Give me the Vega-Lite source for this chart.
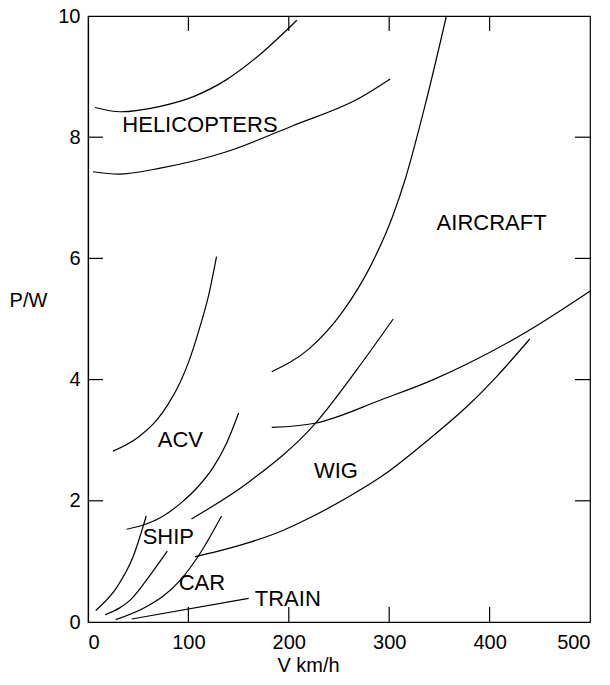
{
  "$schema": "https://vega.github.io/schema/vega-lite/v6.json",
  "width": 502,
  "height": 606,
  "autosize": {"type": "none"},
  "padding": {"left": 88, "top": 16, "right": 20, "bottom": 63},
  "background": "white",
  "config": {
    "view": {"stroke": "black", "strokeWidth": 1.2},
    "font": "Liberation Sans",
    "axis": {
      "domainColor": "black", "labelColor": "black", "titleColor": "black",
      "labelFont": "Liberation Sans", "titleFont": "Liberation Sans",
      "labelFontSize": 20, "titleFontSize": 20, "titleFontWeight": "normal",
      "domainWidth": 1.2, "ticks": false, "grid": false
    }
  },
  "datasets": {
    "curves": [
      {"c": "heli_up", "x": 7, "y": 8.49}, {"c": "heli_up", "x": 32, "y": 8.42}, {"c": "heli_up", "x": 72, "y": 8.51}, {"c": "heli_up", "x": 105, "y": 8.67}, {"c": "heli_up", "x": 138, "y": 8.95}, {"c": "heli_up", "x": 171, "y": 9.36}, {"c": "heli_up", "x": 208, "y": 9.93},
      {"c": "heli_low", "x": 5, "y": 7.43}, {"c": "heli_low", "x": 30, "y": 7.39}, {"c": "heli_low", "x": 72, "y": 7.49}, {"c": "heli_low", "x": 138, "y": 7.76}, {"c": "heli_low", "x": 204, "y": 8.19}, {"c": "heli_low", "x": 271, "y": 8.65}, {"c": "heli_low", "x": 301, "y": 8.96},
      {"c": "air_left", "x": 183, "y": 4.13}, {"c": "air_left", "x": 221, "y": 4.52}, {"c": "air_left", "x": 254, "y": 5.13}, {"c": "air_left", "x": 281, "y": 5.86}, {"c": "air_left", "x": 304, "y": 6.72}, {"c": "air_left", "x": 316, "y": 7.31}, {"c": "air_left", "x": 337, "y": 8.61}, {"c": "air_left", "x": 357, "y": 10.0},
      {"c": "air_right", "x": 183, "y": 3.21}, {"c": "air_right", "x": 226, "y": 3.28}, {"c": "air_right", "x": 294, "y": 3.68}, {"c": "air_right", "x": 344, "y": 4.0}, {"c": "air_right", "x": 379, "y": 4.27}, {"c": "air_right", "x": 437, "y": 4.79}, {"c": "air_right", "x": 501, "y": 5.47},
      {"c": "mid", "x": 103, "y": 1.7}, {"c": "mid", "x": 161, "y": 2.32}, {"c": "mid", "x": 226, "y": 3.27}, {"c": "mid", "x": 268, "y": 4.17}, {"c": "mid", "x": 304, "y": 5.0},
      {"c": "acv_up", "x": 25, "y": 2.82}, {"c": "acv_up", "x": 50, "y": 3.05}, {"c": "acv_up", "x": 68.4, "y": 3.33}, {"c": "acv_up", "x": 80, "y": 3.6}, {"c": "acv_up", "x": 91.6, "y": 3.95}, {"c": "acv_up", "x": 100, "y": 4.28}, {"c": "acv_up", "x": 111.5, "y": 4.87}, {"c": "acv_up", "x": 120, "y": 5.38}, {"c": "acv_up", "x": 128, "y": 6.03},
      {"c": "acv_low", "x": 38.5, "y": 1.53}, {"c": "acv_low", "x": 55, "y": 1.6}, {"c": "acv_low", "x": 75, "y": 1.75}, {"c": "acv_low", "x": 93, "y": 1.97}, {"c": "acv_low", "x": 110, "y": 2.24}, {"c": "acv_low", "x": 125, "y": 2.56}, {"c": "acv_low", "x": 138, "y": 2.95}, {"c": "acv_low", "x": 150, "y": 3.45},
      {"c": "ship1", "x": 7.7, "y": 0.19}, {"c": "ship1", "x": 29, "y": 0.58}, {"c": "ship1", "x": 45, "y": 1.08}, {"c": "ship1", "x": 58, "y": 1.75},
      {"c": "ship2", "x": 17, "y": 0.12}, {"c": "ship2", "x": 42, "y": 0.36}, {"c": "ship2", "x": 63, "y": 0.8}, {"c": "ship2", "x": 79, "y": 1.17},
      {"c": "car", "x": 27.6, "y": 0.04}, {"c": "car", "x": 58, "y": 0.25}, {"c": "car", "x": 92, "y": 0.69}, {"c": "car", "x": 111.5, "y": 1.13}, {"c": "car", "x": 133, "y": 1.75},
      {"c": "wig_low", "x": 106.5, "y": 1.08}, {"c": "wig_low", "x": 125, "y": 1.15}, {"c": "wig_low", "x": 160, "y": 1.31}, {"c": "wig_low", "x": 191, "y": 1.49}, {"c": "wig_low", "x": 221, "y": 1.72}, {"c": "wig_low", "x": 260, "y": 2.07}, {"c": "wig_low", "x": 294, "y": 2.42}, {"c": "wig_low", "x": 340, "y": 3.02}, {"c": "wig_low", "x": 379, "y": 3.58}, {"c": "wig_low", "x": 407, "y": 4.05}, {"c": "wig_low", "x": 440, "y": 4.67},
      {"c": "train", "x": 43.5, "y": 0.05}, {"c": "train", "x": 160, "y": 0.39}
    ],
    "labels": [
      {"t": "HELICOPTERS", "x": 111.5, "y": 8.2},
      {"t": "AIRCRAFT", "x": 402, "y": 6.58},
      {"t": "ACV", "x": 92, "y": 3.0},
      {"t": "WIG", "x": 247, "y": 2.49},
      {"t": "SHIP", "x": 80, "y": 1.4},
      {"t": "CAR", "x": 113.5, "y": 0.64},
      {"t": "TRAIN", "x": 199, "y": 0.38}
    ],
    "yticks": [
      {"x": 0, "y": 2}, {"x": 0, "y": 4}, {"x": 0, "y": 6}, {"x": 0, "y": 8},
      {"x": 500, "y": 2}, {"x": 500, "y": 4}, {"x": 500, "y": 6}, {"x": 500, "y": 8}
    ],
    "xticks": [
      {"x": 100, "y": 0}, {"x": 200, "y": 0}, {"x": 300, "y": 0}, {"x": 400, "y": 0},
      {"x": 100, "y": 10}, {"x": 200, "y": 10}, {"x": 300, "y": 10}, {"x": 400, "y": 10}
    ]
  },
  "layer": [
    {
      "data": {"name": "curves"},
      "mark": {"type": "line", "interpolate": "monotone", "color": "black", "strokeWidth": 1.2},
      "encoding": {
        "x": {"field": "x", "type": "quantitative", "scale": {"domain": [0, 500], "nice": false},
              "axis": {"orient": "bottom", "values": [0, 100, 200, 300, 400, 500], "format": "d", "title": "V km/h", "labelPadding": 10, "titleX": 220, "titleY": 43, "titleBaseline": "middle", "titleAnchor": null}},
        "y": {"field": "y", "type": "quantitative", "scale": {"domain": [0, 10], "nice": false},
              "axis": {"orient": "left", "values": [0, 2, 4, 6, 8, 10], "format": "d", "title": "P/W", "titleAngle": 0, "titleX": -60, "titleY": 284, "titleAlign": "center", "titleBaseline": "middle", "labelPadding": 8}},
        "detail": {"field": "c"}
      }
    },
    {
      "data": {"name": "labels"},
      "mark": {"type": "text", "font": "Liberation Sans", "fontSize": 22, "color": "black", "align": "center", "baseline": "middle"},
      "encoding": {
        "x": {"field": "x", "type": "quantitative"},
        "y": {"field": "y", "type": "quantitative"},
        "text": {"field": "t"}
      }
    },
    {
      "data": {"name": "yticks"},
      "mark": {"type": "tick", "orient": "horizontal", "size": 30, "thickness": 1.2, "color": "black", "opacity": 1, "clip": true},
      "encoding": {
        "x": {"field": "x", "type": "quantitative"},
        "y": {"field": "y", "type": "quantitative"}
      }
    },
    {
      "data": {"name": "xticks"},
      "mark": {"type": "tick", "orient": "vertical", "size": 30, "thickness": 1.2, "color": "black", "opacity": 1, "clip": true},
      "encoding": {
        "x": {"field": "x", "type": "quantitative"},
        "y": {"field": "y", "type": "quantitative"}
      }
    }
  ]
}
